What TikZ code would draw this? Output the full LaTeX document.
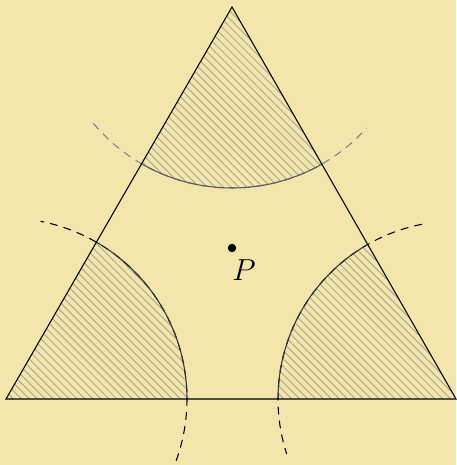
\documentclass[tikz,border=0pt]{standalone}
\usetikzlibrary{patterns.meta}
\definecolor{bgyellow}{HTML}{F2E6AD}
\definecolor{hatchgray}{HTML}{A8A290}
\begin{document}
\begin{tikzpicture}[x=0.02cm, y=0.02cm,
  side/.style={draw=black, line width=0.6pt},
  hatch/.style={pattern={Lines[angle=-45, distance=3.2pt, line width=0.5pt]}, pattern color=hatchgray},
  far/.style={dash pattern=on 4.5pt off 3.5pt, line width=0.6pt}]
\fill[bgyellow] (0,0) rectangle (456,465);
\useasboundingbox (0,0) rectangle (456,465);
\coordinate (A) at (6,66);
\coordinate (B) at (456,66);
\coordinate (C) at (232,458);
\coordinate (P) at (232,217);
% hatched corners
\fill[hatch] (A) -- ++(0:181) arc[start angle=0, end angle=60, radius=181] -- cycle;
\fill[hatch] (B) -- ++(180:178) arc[start angle=180, end angle=120, radius=178] -- cycle;
\fill[hatch] (C) -- ++(240:181) arc[start angle=240, end angle=300, radius=181] -- cycle;
% circles round the corners
\draw[far] (A) ++(-20:181) arc[start angle=-20, end angle=79, radius=181];
\draw[far] (B) ++(101:178) arc[start angle=101, end angle=198, radius=178];
\draw[far, gray] (C) ++(220:181) arc[start angle=220, end angle=318, radius=181];
\draw[line width=0.6pt, black!80] (A) ++(0:181) arc[start angle=0, end angle=60, radius=181];
\draw[line width=0.6pt, black!80] (B) ++(180:178) arc[start angle=180, end angle=120, radius=178];
\draw[line width=0.6pt, black!65] (C) ++(240:181) arc[start angle=240, end angle=300, radius=181];
% triangle
\draw[side] (A) -- (B) -- (C) -- cycle;
\fill (P) circle[radius=4.2];
\node[font=\LARGE] (Plabel) at (244,195) {$P$};
\end{tikzpicture}
\end{document}
